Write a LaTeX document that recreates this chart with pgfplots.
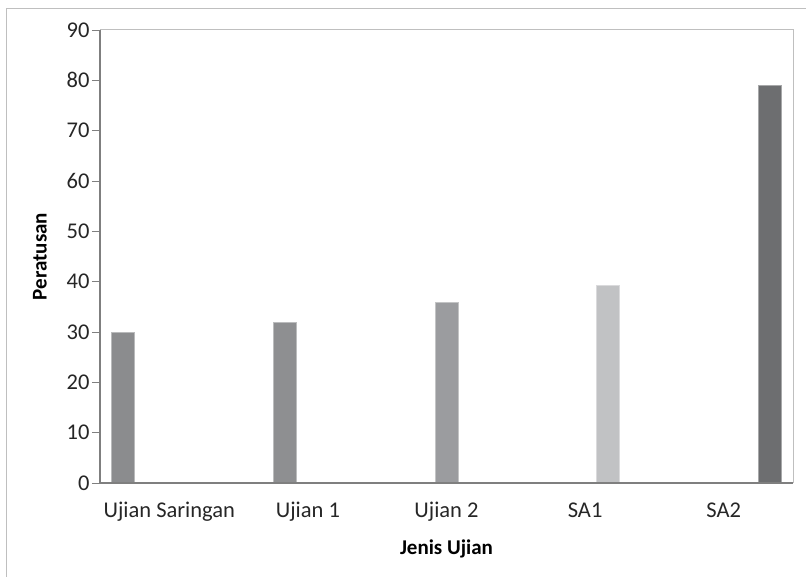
\documentclass[border=0pt]{standalone}
\usepackage{fontspec}
\setmainfont{Carlito}
\usepackage{pgfplots}
\pgfplotsset{compat=1.18}
\definecolor{cA}{HTML}{8B8C8E}
\definecolor{cB}{HTML}{8E8F91}
\definecolor{cC}{HTML}{9B9C9F}
\definecolor{cD}{HTML}{C1C2C4}
\definecolor{cE}{HTML}{6D6E70}
\definecolor{axisdark}{HTML}{7F7F7F}
\definecolor{framelight}{HTML}{BFBFBF}
\begin{document}
\begin{tikzpicture}[x=1bp,y=1bp]
\path[use as bounding box] (0,0) rectangle (806,578);
\draw[framelight, line width=1bp] (6,1) -- (6,569) -- (806,569);
\begin{axis}[
  at={(100bp,95bp)}, anchor=south west,
  scale only axis, width=693bp, height=453bp,
  ybar=0pt, bar width=23bp,
  xmin=-0.5, xmax=4.5, ymin=0, ymax=90,
  xtick={0,1,2,3,4},
  xticklabels={Ujian Saringan,Ujian 1,Ujian 2,SA1,SA2},
  ytick={0,10,...,90},
  ytick pos=left,
  x tick style={draw=none},
  y tick style={axisdark, line width=0.8bp},
  tick align=outside, major tick length=8bp,
  axis line style={framelight, line width=1bp},
  tick label style={font=\fontsize{22.5bp}{24bp}\selectfont, text=black!85},
  /pgf/number format/assume math mode=true,
  xticklabel style={yshift=-8bp},
  yticklabel style={xshift=1bp},
  xlabel={\textbf{Jenis Ujian}},
  ylabel={\textbf{Peratusan}},
  label style={font=\fontsize{21bp}{23bp}\selectfont},
  xlabel style={at={(axis description cs:0.5,-0.1457)}, anchor=center},
  ylabel style={at={(axis description cs:-0.0866,0.5)}, anchor=center},
  clip=false,
]
\addplot[fill=cA, draw=cA!60!white, line width=0.8bp] coordinates {(0,30)};
\addplot[fill=cB, draw=cB!60!white, line width=0.8bp] coordinates {(1,32)};
\addplot[fill=cC, draw=cC!60!white, line width=0.8bp] coordinates {(2,35.8)};
\addplot[fill=cD, draw=cD!60!white, line width=0.8bp] coordinates {(3,39.2)};
\addplot[fill=cE, draw=cE!60!white, line width=0.8bp] coordinates {(4,79)};
\draw[axisdark, line width=1.2bp] (rel axis cs:0,1) -- (rel axis cs:0,0) -- (rel axis cs:1,0);
\end{axis}
\end{tikzpicture}
\end{document}
